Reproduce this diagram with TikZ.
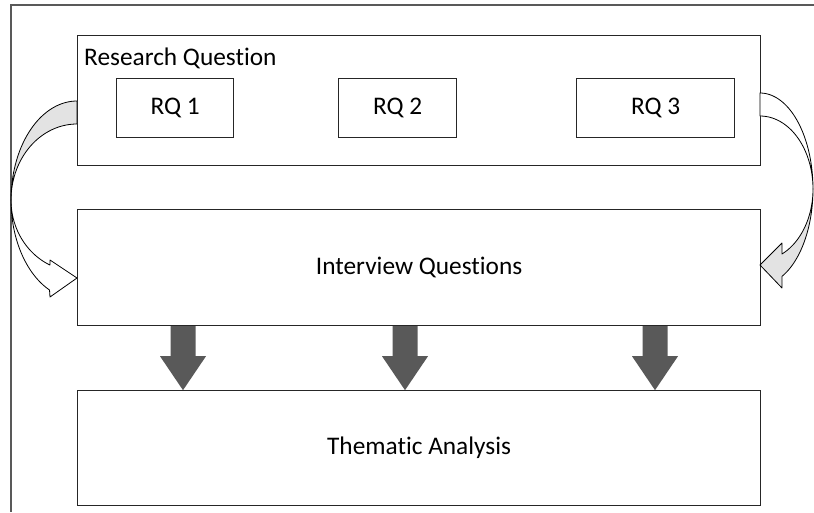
\documentclass[tikz,border=0pt]{standalone}
\usepackage{fontspec}
\setmainfont[Ligatures=NoCommon]{Carlito}
\usetikzlibrary{calc}
\definecolor{framegray}{HTML}{595959}
\definecolor{backface}{HTML}{E3E3E3}
\definecolor{fatgray}{HTML}{595959}

\begin{document}
\begin{tikzpicture}[x=0.75pt,y=-0.75pt,
  box/.style={draw=black!85, line width=0.9pt, inner sep=0pt, anchor=north west},
  lbl/.style={font=\fontsize{19}{23}\selectfont},
  band/.style={draw=black, line width=0.6pt, line join=round},
  fatdown/.pic={\fill[fatgray] (-12.5,0) -- (-12.5,30) -- (-23,30) -- (0,64) -- (23,30) -- (12.5,30) -- (12.5,0) -- cycle;}]
\useasboundingbox (0,0) rectangle (814,512);

% surrounding frame
\draw[framegray, line width=1.3pt] (814,5) -- (11,5) -- (11,512);

% main boxes
\node[box, minimum width=512.25pt, minimum height=97.5pt] (rq) at (77,35) {};
\node[lbl, anchor=base west] (rqtitle) at (79.5,65.5) {Research Question};
\node[box, minimum width=87.75pt, minimum height=44.25pt] (rq1) at (116,78) {};
\node[lbl] at (rq1.center) {RQ 1};
\node[box, minimum width=88.5pt, minimum height=44.25pt] (rq2) at (338,78) {};
\node[lbl] at (rq2.center) {RQ 2};
\node[box, minimum width=118.5pt, minimum height=44.25pt] (rq3) at (576,78) {};
\node[lbl] at (rq3.center) {RQ 3};

\node[box, minimum width=512.25pt, minimum height=87pt] (iq) at (77,209) {};
\node[lbl] (iqtext) at (iq.center) {Interview Questions};

\node[box, minimum width=512.25pt, minimum height=86.25pt] (ta) at (77,390) {};
\node[lbl] (tatext) at (ta.center) {Thematic Analysis};

% thick arrows from interview questions to thematic analysis
\pic at ($(iq.south west)+(106,0)$) {fatdown};
\pic at ($(iq.south west)+(328,0)$) {fatdown};
\pic at ($(iq.south west)+(578,0)$) {fatdown};

% curved arrow on the left: back face, then front face with head
\filldraw[band, fill=backface]
  plot[domain=-90:-180, samples=40] ({77+66*cos(\x)},{200+99*sin(\x)})
  -- plot[domain=-180:-90, samples=40] ({77+66*cos(\x)},{200+76*sin(\x)}) -- cycle;
\filldraw[band, fill=white]
  plot[domain=180:114.6, samples=40] ({77+66*cos(\x)},{200+99*sin(\x)})
  -- (50,297) -- (77,278) -- (50,260)
  -- plot[domain=114.2:180, samples=40] ({77+66*cos(\x)},{200+71.3*sin(\x)}) -- cycle;

% curved arrow on the right: front face, then back face with head
\filldraw[band, fill=white]
  plot[domain=-90:0, samples=40] ({760+53*cos(\x)},{189+96*sin(\x)})
  -- plot[domain=0:-90, samples=40] ({760+53*cos(\x)},{189+73*sin(\x)}) -- cycle;
\filldraw[band, fill=backface]
  plot[domain=0:65.5, samples=40] ({760+53*cos(\x)},{189+96*sin(\x)})
  -- (782,288) -- (760,265) -- (782,243)
  -- plot[domain=65.5:0, samples=40] ({760+53*cos(\x)},{189+71.4*sin(\x)}) -- cycle;
\end{tikzpicture}
\end{document}
